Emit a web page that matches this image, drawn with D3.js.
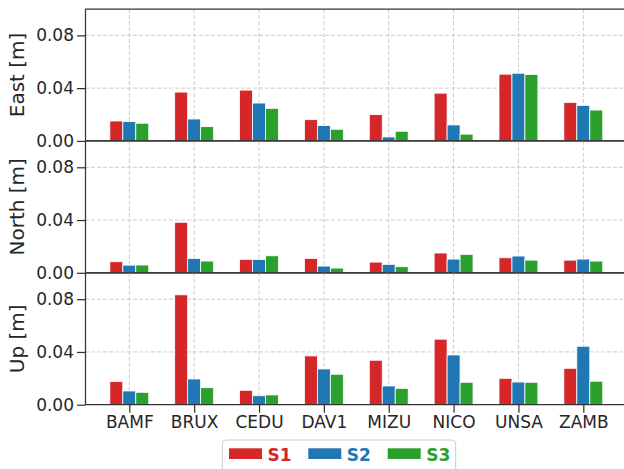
<!DOCTYPE html>
<html>
<head>
<meta charset="utf-8">
<script src="https://cdn.jsdelivr.net/npm/d3@7"></script>
<style>
  body { margin: 0; background: #fff; }
  svg { font-family: "DejaVu Sans", sans-serif; }
</style>
</head>
<body>
<div id="chart"></div>
<script>
// Stations and series
const stations = ["BAMF", "BRUX", "CEDU", "DAV1", "MIZU", "NICO", "UNSA", "ZAMB"];
const seriesNames = ["S1", "S2", "S3"];
const seriesColors = ["#d62728", "#1f77b4", "#2ca02c"];
const panelNames = ["East [m]", "North [m]", "Up [m]"];
const yTicks = [0, 0.04, 0.08];

// values per series, one list per component
const eastS1 = [0.0151, 0.0370, 0.0385, 0.0161, 0.0199, 0.0362, 0.0506, 0.0292];
const eastS2 = [0.0146, 0.0166, 0.0287, 0.0116, 0.0030, 0.0121, 0.0513, 0.0269];
const eastS3 = [0.0134, 0.0108, 0.0247, 0.0088, 0.0073, 0.0051, 0.0504, 0.0234];

const northS1 = [0.0084, 0.0383, 0.0102, 0.0109, 0.0081, 0.0150, 0.0114, 0.0096];
const northS2 = [0.0058, 0.0109, 0.0101, 0.0051, 0.0064, 0.0104, 0.0127, 0.0104];
const northS3 = [0.0059, 0.0089, 0.0129, 0.0036, 0.0046, 0.0140, 0.0096, 0.0089];

const upS1 = [0.0175, 0.0833, 0.0109, 0.0370, 0.0337, 0.0497, 0.0200, 0.0276];
const upS2 = [0.0104, 0.0195, 0.0068, 0.0271, 0.0142, 0.0377, 0.0172, 0.0443];
const upS3 = [0.0094, 0.0129, 0.0074, 0.0231, 0.0124, 0.0170, 0.0170, 0.0178];

const panels = [
    [eastS1, eastS2, eastS3],
    [northS1, northS2, northS3],
    [upS1, upS2, upS3]
];

const width = 624, height = 469;
const left = 85, right = 627.6;
const top0 = 9, panelH = 131.9;
const textColor = "#262626";
const spineColor = "#333333";
const tickFont = 17;
const labelFont = 20;

const svg = d3.select("#chart").append("svg")
    .attr("width", width)
    .attr("height", height);

const x = d3.scalePoint()
    .domain(stations)
    .range([left, right])
    .padding(0.683);
const step = x.step();
const barW = 0.2 * step;

panels.forEach((series, p) => {
    const pTop = top0 + p * panelH;
    const pBottom = pTop + panelH;
    const y = d3.scaleLinear().domain([0, 0.1]).range([pBottom, pTop]);
    const g = svg.append("g");

    // grid
    g.selectAll(".hgrid")
        .data(yTicks.filter(d => d > 0))
        .enter().append("line")
        .attr("x1", left).attr("x2", right)
        .attr("y1", d => y(d)).attr("y2", d => y(d))
        .attr("stroke", "#cccccc").attr("stroke-width", 1)
        .attr("stroke-dasharray", "4,2");
    g.selectAll(".vgrid")
        .data(stations)
        .enter().append("line")
        .attr("x1", d => x(d)).attr("x2", d => x(d))
        .attr("y1", pTop).attr("y2", pBottom)
        .attr("stroke", "#cccccc").attr("stroke-width", 1)
        .attr("stroke-dasharray", "4,2");

    // bars
    series.forEach((vals, s) => {
        g.selectAll(".bar" + s)
            .data(vals)
            .enter().append("rect")
            .attr("x", (d, i) => x(stations[i]) + (s - 1) * barW - barW / 2)
            .attr("y", d => y(d))
            .attr("width", barW)
            .attr("height", d => y(0) - y(d))
            .attr("fill", seriesColors[s])
            .attr("stroke", "#ffffff")
            .attr("stroke-width", 0.8);
    });

    // y axis
    const ya = g.append("g")
        .attr("transform", "translate(" + left + ",0)")
        .call(d3.axisLeft(y).tickValues(yTicks).tickFormat(d3.format(".2f"))
            .tickSize(8).tickPadding(3).tickSizeOuter(0));
    ya.select(".domain").attr("stroke", spineColor).attr("stroke-width", 1.25);
    ya.selectAll(".tick line").attr("stroke", spineColor).attr("stroke-width", 1.25);
    ya.selectAll("text").attr("fill", textColor).style("font-size", tickFont + "px")
        .style("font-family", "DejaVu Sans");

    // spines: bottom and top
    g.append("line")
        .attr("x1", left).attr("x2", right)
        .attr("y1", pBottom).attr("y2", pBottom)
        .attr("stroke", spineColor).attr("stroke-width", 1.25);
    g.append("line")
        .attr("x1", left).attr("x2", right)
        .attr("y1", pTop).attr("y2", pTop)
        .attr("stroke", spineColor).attr("stroke-width", 1.25);

    // y label
    g.append("text")
        .attr("transform", "translate(23.5," + (pTop + panelH / 2) + ") rotate(-90)")
        .attr("text-anchor", "middle")
        .attr("fill", textColor)
        .style("font-size", labelFont + "px")
        .text(panelNames[p]);

    // x axis only on the bottom panel
    if (p === panels.length - 1) {
        const xa = g.append("g")
            .attr("transform", "translate(0," + pBottom + ")")
            .call(d3.axisBottom(x).tickSize(8).tickPadding(3).tickSizeOuter(0));
        xa.select(".domain").remove();
        xa.selectAll(".tick line").attr("stroke", spineColor).attr("stroke-width", 1.25);
        xa.selectAll("text").attr("fill", textColor).style("font-size", tickFont + "px")
            .style("font-family", "DejaVu Sans");
    }
});

// legend
const legend = svg.append("g");
legend.append("rect")
    .attr("x", 222.3).attr("y", 440)
    .attr("width", 233.4).attr("height", 40)
    .attr("rx", 4)
    .attr("fill", "#ffffff")
    .attr("stroke", "#cccccc");
const legendX = [229, 308.3, 387.7];
seriesNames.forEach((name, i) => {
    legend.append("rect")
        .attr("x", legendX[i]).attr("y", 448.3)
        .attr("width", 33).attr("height", 10.7)
        .attr("fill", seriesColors[i]);
    legend.append("text")
        .attr("x", legendX[i] + 38.5).attr("y", 461)
        .attr("fill", seriesColors[i])
        .style("font-size", tickFont + "px")
        .style("font-weight", "bold")
        .text(name);
});
</script>
</body>
</html>
